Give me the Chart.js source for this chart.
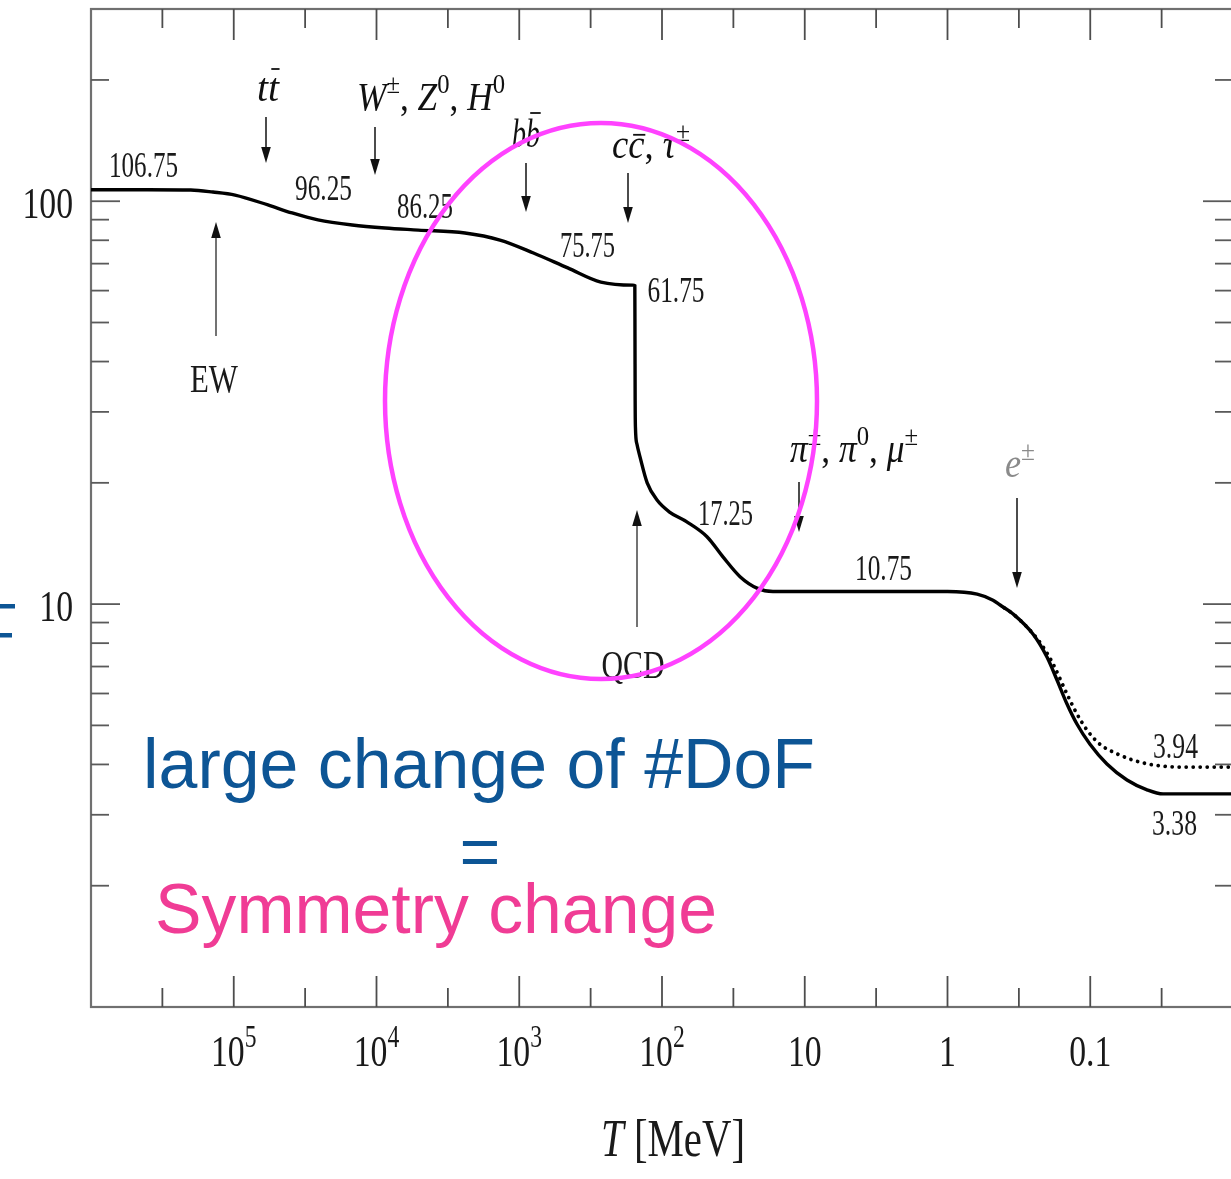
<!DOCTYPE html>
<html>
<head>
<meta charset="utf-8">
<title>Effective relativistic degrees of freedom</title>
<script src="https://cdn.jsdelivr.net/npm/chart.js@4.4.1/dist/chart.umd.min.js"></script>
<style>
  html, body { margin: 0; padding: 0; overflow: hidden; background: #fff; }
  #wrap { position: relative; width: 1250px; height: 1179px; }
</style>
</head>
<body>
<div id="wrap"><canvas id="c" width="1250" height="1179"></canvas></div>
<script>
// g_* (energy density degrees of freedom) versus temperature T [MeV]
const T_GSTAR = [1e6, 4e5, 2e5, 1.4e5, 9.8e4, 5.76e4, 3.9e4, 2.57e4, 1.48e4, 8.7e3, 5.1e3, 2.4e3,
  1365, 795, 457, 268, 160, 155, 154.6, 154.2, 153.5, 150, 142.6, 127, 108, 88, 67, 48.4, 37.4,
  28.4, 21.6, 16.7, 5, 1.0, 0.62, 0.48, 0.428, 0.347, 0.252, 0.201, 0.171, 0.1455, 0.124, 0.1004,
  0.0764, 0.0553, 0.040, 0.0309, 0.01];
const G_STAR = [106.75, 106.75, 106.6, 105.4, 103.6, 97.9, 93.5, 89.9, 87.3, 85.8, 84.8, 83.4,
  80.1, 74.4, 68.3, 63.0, 61.9, 61.75, 45, 32, 27.5, 25.0, 23.2, 20.0, 18.1, 16.9, 16.0, 14.7, 13.1,
  11.7, 10.96, 10.75, 10.75, 10.75, 10.59, 10.23, 9.95, 9.45, 8.43, 7.39, 6.48, 5.65, 5.04, 4.49,
  4.01, 3.66, 3.46, 3.38, 3.38];

// g_{*s} (entropy degrees of freedom), where it departs from g_*
const T_GSTAR_S = [0.40, 0.347, 0.252, 0.214, 0.182, 0.1455, 0.124, 0.1054, 0.0855, 0.065, 0.0501, 0.0363, 0.0224, 0.01];
const G_STAR_S  = [9.78, 9.45, 8.45, 7.83, 7.10, 5.98, 5.34, 4.87, 4.49, 4.25, 4.10, 3.99, 3.94, 3.94];

// axis ticks
const X_MAJOR = [1e5, 1e4, 1e3, 1e2, 10, 1, 0.1];
const X_MAJOR_LABELS = [['10', '5'], ['10', '4'], ['10', '3'], ['10', '2'], ['10', ''], ['1', ''], ['0.1', '']];
const Y_MAJOR = [10, 100];
const Y_MAJOR_LABELS = ['10', '100'];
const Y_MINOR = [2, 3, 4, 5, 6, 7, 8, 9, 20, 30, 40, 50, 60, 70, 80, 90, 200];

// plateau values written along the curve
const VALUE_LABELS = ['106.75', '96.25', '86.25', '75.75', '61.75', '17.25', '10.75', '3.94', '3.38'];
// particle thresholds
const THRESHOLD_LABELS = [
  [{t: 't', i: 1}, {t: 't', i: 1, bar: 0.8}],
  [{t: 'W', i: 1}, {t: '±', sup: 1}, {t: ', '}, {t: 'Z', i: 1}, {t: '0', sup: 1}, {t: ', '}, {t: 'H', i: 1}, {t: '0', sup: 1}],
  [{t: 'b', i: 1}, {t: 'b', i: 1, bar: 0.85}],
  [{t: 'c', i: 1}, {t: 'c', i: 1, bar: 0.58}, {t: ', '}, {t: 'τ', i: 1}, {t: '±', sup: 1}],
  [{t: 'π', i: 1}, {t: '±', sup: 1}, {t: ', '}, {t: 'π', i: 1}, {t: '0', sup: 1}, {t: ', '}, {t: 'μ', i: 1}, {t: '±', sup: 1}],
  [{t: 'e', i: 1}, {t: '±', sup: 1}]
];
const TRANSITION_LABELS = ['EW', 'QCD'];

// ---- placement and style ----
const VALUE_POS = [[143.5, 177, 69], [323.5, 200, 57], [425, 218, 56], [587.5, 257, 55], [676, 302, 57],
  [725.5, 525, 55], [883.5, 580, 57], [1175.5, 758, 45], [1174.5, 835, 45]];
const THRESHOLD_POS = [[268, 101, 22], [431, 110, 148], [526, 147, 28], [651, 158, 78], [854, 462, 128], [1020, 477, 30]];
const THRESHOLD_COLOR = ['#111', '#111', '#111', '#111', '#111', '#8a8a8a'];
const TRANSITION_POS = [[214, 392, 48], [633, 678, 63]];
// arrows: x, tail y, head y
const ARROWS = [[266, 117, 163], [375, 127, 175], [526, 163, 212], [628, 173, 223], [799, 482, 532], [1017, 498, 588],
  [216, 336, 222], [637, 627, 510]];

const SERIF = '"Liberation Serif", "DejaVu Serif", serif';
function serif(size, italic) { return (italic ? 'italic ' : '') + size + 'px ' + SERIF; }

function layoutRich(ctx, segs, size) {
  let x = 0; const runs = [];
  for (const s of segs) {
    const fs = s.sup ? size * 0.7 : size;
    ctx.font = serif(fs, s.i);
    const w = ctx.measureText(s.t).width;
    runs.push({s, fs, x, w, dy: s.sup ? -size * 0.42 : 0});
    x += w;
  }
  return {runs, width: x};
}

function drawRich(ctx, segs, x, base, size, width, color, align) {
  const lay = layoutRich(ctx, segs, size);
  const sx = width ? width / lay.width : 0.75;
  const total = lay.width * sx;
  let x0 = x - total / 2;
  if (align === 'right') x0 = x - total;
  if (align === 'left') x0 = x;
  ctx.save();
  ctx.translate(x0, base);
  ctx.scale(sx, 1);
  ctx.fillStyle = color; ctx.strokeStyle = color;
  ctx.textAlign = 'left'; ctx.textBaseline = 'alphabetic';
  for (const r of lay.runs) {
    ctx.font = serif(r.fs, r.s.i);
    ctx.fillText(r.s.t, r.x, r.dy);
    if (r.s.bar) {
      ctx.lineWidth = 1.8;
      ctx.beginPath();
      ctx.moveTo(r.x + r.w * 0.3, -size * r.s.bar);
      ctx.lineTo(r.x + r.w * 1.05, -size * r.s.bar);
      ctx.stroke();
    }
  }
  ctx.restore();
}

function arrow(ctx, x, y1, y2) {
  const dir = y2 > y1 ? 1 : -1;
  const head = 16, half = 4.8;
  ctx.beginPath();
  ctx.moveTo(x, y1); ctx.lineTo(x, y2 - dir * head * 0.7);
  ctx.stroke();
  ctx.beginPath();
  ctx.moveTo(x, y2);
  ctx.lineTo(x - half, y2 - dir * head);
  ctx.lineTo(x + half, y2 - dir * head);
  ctx.closePath();
  ctx.fill();
}

const frameTicks = {
  id: 'frameTicks',
  beforeDraw(chart) {
    const ctx = chart.ctx;
    ctx.save(); ctx.fillStyle = '#fff'; ctx.fillRect(0, 0, chart.width, chart.height); ctx.restore();
  },
  beforeDatasetsDraw(chart) {
    const {ctx, chartArea: a, scales: {x, y}} = chart;
    const seg = (x1, y1, x2, y2) => { ctx.beginPath(); ctx.moveTo(x1, y1); ctx.lineTo(x2, y2); ctx.stroke(); };
    ctx.save();
    ctx.strokeStyle = '#707070'; ctx.lineWidth = 2.2;
    ctx.strokeRect(a.left, a.top, a.right - a.left, a.bottom - a.top);
    ctx.strokeStyle = '#4d4d4d'; ctx.lineWidth = 1.8;
    X_MAJOR.forEach(v => {
      const p = x.getPixelForValue(v);
      seg(p, a.bottom, p, a.bottom - 31); seg(p, a.top, p, a.top + 31);
    });
    for (let k = -2; k <= 5; k++) {
      const p = x.getPixelForValue(Math.pow(10, k + 0.5));
      seg(p, a.bottom, p, a.bottom - 19); seg(p, a.top, p, a.top + 19);
    }
    ctx.strokeStyle = '#5a5a5a';
    Y_MAJOR.forEach(v => {
      const p = y.getPixelForValue(v);
      seg(a.left, p, a.left + 29, p); seg(a.right, p, a.right - 30, p);
    });
    Y_MINOR.forEach(v => {
      const p = y.getPixelForValue(v);
      seg(a.left, p, a.left + 18, p); seg(a.right, p, a.right - 18, p);
    });
    ctx.restore();

    // tick labels
    X_MAJOR.forEach((v, i) => {
      const [m, e] = X_MAJOR_LABELS[i];
      const segs = e ? [{t: m}, {t: e, sup: 1}] : [{t: m}];
      drawRich(ctx, segs, x.getPixelForValue(v), 1066, 45, null, '#1a1a1a');
    });
    Y_MAJOR.forEach((v, i) => {
      drawRich(ctx, [{t: Y_MAJOR_LABELS[i]}], 73, y.getPixelForValue(v) + 17, 45, null, '#1a1a1a', 'right');
    });
    drawRich(ctx, [{t: 'T', i: 1}, {t: ' [MeV]'}], 673, 1156, 52, 144, '#1a1a1a');
  },
  afterDatasetsDraw(chart) {
    const ctx = chart.ctx;
    VALUE_LABELS.forEach((s, i) => {
      const [cx, b, w] = VALUE_POS[i];
      drawRich(ctx, [{t: s}], cx, b, 35, w, '#1a1a1a');
    });
    THRESHOLD_LABELS.forEach((segs, i) => {
      const [cx, b, w] = THRESHOLD_POS[i];
      drawRich(ctx, segs, cx, b, 40, w, THRESHOLD_COLOR[i]);
    });
    TRANSITION_LABELS.forEach((s, i) => {
      const [cx, b, w] = TRANSITION_POS[i];
      drawRich(ctx, [{t: s}], cx, b, 40, w, '#1a1a1a');
    });
    ctx.save();
    ctx.lineWidth = 1.5;
    ARROWS.forEach(([ax, y1, y2]) => {
      ctx.strokeStyle = y2 < y1 ? '#444' : '#111';
      ctx.fillStyle = '#111';
      arrow(ctx, ax, y1, y2);
    });
    ctx.restore();
  },
  afterDraw(chart) {
    const ctx = chart.ctx;
    ctx.save();
    // highlighted region around the QCD transition
    ctx.strokeStyle = '#ff42ff'; ctx.lineWidth = 4.5;
    ctx.beginPath(); ctx.ellipse(601, 401, 216, 278, 0, 0, Math.PI * 2); ctx.stroke();

    const sans = '70px "Liberation Sans", Arial, sans-serif';
    ctx.font = sans; ctx.textBaseline = 'alphabetic'; ctx.textAlign = 'left';
    ctx.fillStyle = '#0d5595';
    const fit = (txt, left, base, width) => {
      const w = ctx.measureText(txt).width;
      ctx.save(); ctx.translate(left, base); ctx.scale(width / w, 1); ctx.fillText(txt, 0, 0); ctx.restore();
    };
    fit('large change of #DoF', 143, 788, 672);
    ctx.textAlign = 'center';
    ctx.fillText('=', 480, 876);
    ctx.fillRect(0, 604, 15, 4.5);
    ctx.fillRect(0, 633, 12, 4.5);
    ctx.textAlign = 'left';
    ctx.fillStyle = '#f03c95';
    fit('Symmetry change', 155, 933, 562);
    ctx.restore();
  }
};

const toPoints = (xs, ys) => xs.map((t, i) => ({x: t, y: ys[i]}));

new Chart(document.getElementById('c'), {
  type: 'scatter',
  data: {
    datasets: [
      {
        label: 'g*', data: toPoints(T_GSTAR, G_STAR), showLine: true,
        borderColor: '#000', borderWidth: 3.4, pointRadius: 0, cubicInterpolationMode: 'monotone'
      },
      {
        label: 'g*s', data: toPoints(T_GSTAR_S, G_STAR_S), showLine: true,
        borderColor: '#000', borderWidth: 3.8, borderDash: [0.01, 7], borderCapStyle: 'round',
        pointRadius: 0, cubicInterpolationMode: 'monotone'
      }
    ]
  },
  options: {
    responsive: false,
    animation: false,
    events: [],
    layout: { padding: { left: 91, top: 9, right: 17, bottom: 172 } },
    plugins: { legend: { display: false }, tooltip: { enabled: false } },
    scales: {
      x: { type: 'logarithmic', reverse: true, min: 0.01, max: 1e6, display: false },
      y: { type: 'logarithmic', min: 1, max: 300, display: false }
    }
  },
  plugins: [frameTicks]
});
</script>
</body>
</html>
